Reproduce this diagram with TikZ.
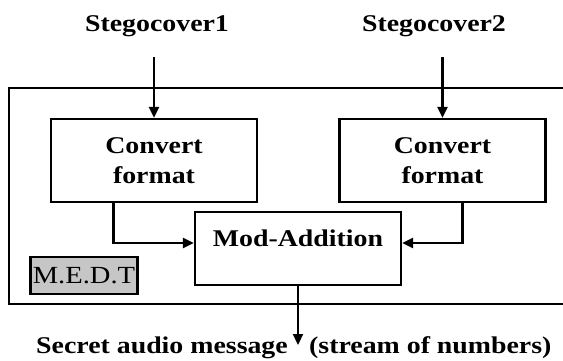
\documentclass[tikz,border=0pt]{standalone}
\usepackage{fontspec}
\setmainfont{Liberation Serif}[FakeStretch=1.16]
\usetikzlibrary{positioning,arrows.meta}

\tikzset{
  convbox/.style={draw, line width=2.2pt, minimum width=206pt, minimum height=83pt,
    align=center, inner sep=0pt, font=\bfseries\fontsize{24}{30}\selectfont},
  lbl/.style={inner sep=0pt, font=\bfseries\fontsize{24}{28}\selectfont},
  flow/.style={line width=2.2pt, -{Triangle[length=11pt,width=10pt]}},
}

\begin{document}
\begin{tikzpicture}[x=1pt,y=-1pt]
\useasboundingbox (0,0) rectangle (563,360);
 % outer frame, open to the right
 \draw[line width=2.2pt] (9,88) rectangle (580,304);

 \node[lbl, anchor=base] (cover1) at (157,31) {Stegocover1};
 \node[lbl, anchor=base] (cover2) at (434,31) {Stegocover2};
 \coordinate (in1) at (154,57);
 \coordinate (in2) at (442.5,57);

 \node[convbox] (conv1) at (154,160.5) {Convert\\format};
 \node[convbox] (conv2) at (442.5,160.5) {Convert\\format};
 \node[convbox, minimum height=0pt, text height=34pt, text depth=39pt, anchor=base]
   (add) at (298,246) {Mod-Addition};

 \node[draw, line width=2.2pt, fill=gray!45, minimum width=107pt, minimum height=37pt,
   inner sep=0pt, font=\fontsize{24.6}{28}\selectfont] (medt) at (84,275.5) {M.E.D.T};

 \coordinate (out) at (298,345);
 \node[lbl, anchor=base east] (msg) at ([xshift=-10pt,yshift=-8pt]out) {Secret audio message};
 \node[lbl, anchor=base west] (stream) at ([xshift=11pt,yshift=-8pt]out) {(stream of numbers)};

 \draw[flow] (in1) -- (conv1);
 \draw[flow] (in2) -- (conv2);
 \draw[flow] ([xshift=-40.5pt]conv1.south) |- ([yshift=3pt]add.base west);
 \draw[flow] ([xshift=20pt]conv2.south) |- ([yshift=3pt]add.base east);
 \draw[flow] (add) -- (out);
\end{tikzpicture}
\end{document}
